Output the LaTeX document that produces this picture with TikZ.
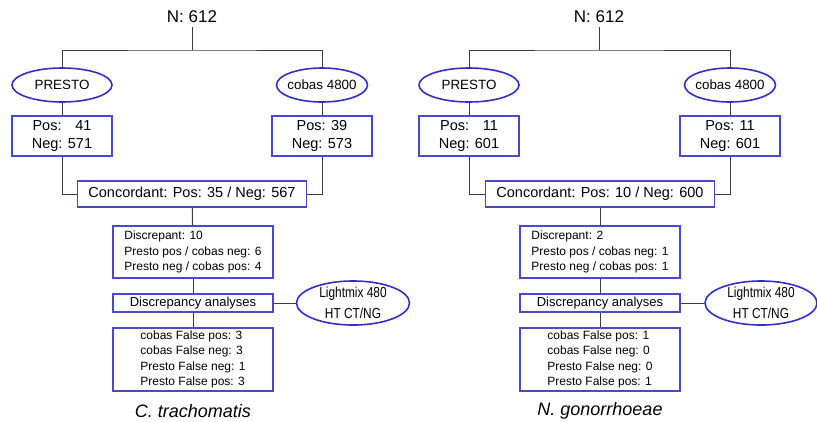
\documentclass[tikz,border=0pt]{standalone}
\usepackage{fontspec}
\setmainfont{Liberation Sans}
\usetikzlibrary{shapes.geometric}
\definecolor{boxblue}{RGB}{72,72,208}
\definecolor{ellblue}{RGB}{48,48,200}
\definecolor{linegray}{RGB}{60,60,60}
\newcommand{\narrow}[1]{\scalebox{0.82}[1]{#1}}

\begin{document}
\begin{tikzpicture}[x=1pt,y=-1pt,
  main box/.style={rectangle,draw=boxblue,line width=1.3pt,inner sep=2pt,
    font=\fontsize{14.5}{18}\selectfont,align=center},
  small box/.style={rectangle,draw=boxblue,line width=1.3pt,inner sep=2pt,
    font=\fontsize{12}{15.4}\selectfont,align=left,minimum width=160pt},
  tool node/.style={ellipse,draw=ellblue,line width=1.6pt,inner ysep=0pt,
    inner xsep=-3pt,align=center,font=\fontsize{13.4}{16}\selectfont},
  top label/.style={font=\fontsize{17}{20}\selectfont},
  species/.style={font=\fontsize{18}{20}\selectfont\itshape},
  link/.style={draw=linegray,line width=1pt}]
  \useasboundingbox (0,0) rectangle (817,421);

  % C. trachomatis
  \node[top label] (n1) at (192,17) {N: 612};
  \coordinate (top1) at (192,50);
  \node[tool node,minimum width=100pt,minimum height=34pt] (presto1) at (62,85) {PRESTO};
  \node[tool node,minimum width=91pt,minimum height=34pt] (cobas1) at (322,85) {cobas 4800};
  \node[main box,minimum width=100pt,minimum height=40pt] (pr1) at (62,136) {Pos:\hspace{0.95em}41\\Neg: 571};
  \node[main box,minimum width=100pt,minimum height=40pt] (cr1) at (322,136) {Pos: 39\\Neg: 573};
  \node[main box,minimum width=229pt,minimum height=26pt] (conc1) at (192,194) {Concordant: Pos: 35 / Neg: 567};
  \node[small box,minimum height=52pt] (disc1) at (193,252)
    {Discrepant: 10\\Presto pos / cobas neg: 6\\Presto neg / cobas pos: 4};
  \node[small box,minimum height=18pt,font=\fontsize{13}{15}\selectfont] (ana1) at (193,303) {Discrepancy analyses};
  \node[tool node,minimum width=113pt,minimum height=44pt,font=\fontsize{14.5}{20.5}\selectfont] (light1) at (353,303)
    {\narrow{Lightmix 480}\\\narrow{HT CT/NG}};
  \node[small box,minimum height=63pt] (false1) at (193,359.5)
    {cobas False pos: 3\\cobas False neg: 3\\Presto False neg: 1\\Presto False pos: 3};
  \node[species] (title1) at (193,411) {C. trachomatis};

  % N. gonorrhoeae
  \node[top label] (n2) at (599,17) {N: 612};
  \coordinate (top2) at (599,50);
  \node[tool node,minimum width=100pt,minimum height=34pt] (presto2) at (469,85) {PRESTO};
  \node[tool node,minimum width=91pt,minimum height=34pt] (cobas2) at (730,85) {cobas 4800};
  \node[main box,minimum width=100pt,minimum height=40pt] (pr2) at (469,136) {Pos:\hspace{0.95em}11\\Neg: 601};
  \node[main box,minimum width=100pt,minimum height=40pt] (cr2) at (730,136) {Pos: 11\\Neg: 601};
  \node[main box,minimum width=229pt,minimum height=26pt] (conc2) at (600,194) {Concordant: Pos: 10 / Neg: 600};
  \node[small box,minimum height=52pt] (disc2) at (600,252)
    {Discrepant: 2\\Presto pos / cobas neg: 1\\Presto neg / cobas pos: 1};
  \node[small box,minimum height=18pt,font=\fontsize{13}{15}\selectfont] (ana2) at (600,303) {Discrepancy analyses};
  \node[tool node,minimum width=112pt,minimum height=44pt,font=\fontsize{14.5}{20.5}\selectfont] (light2) at (761,303)
    {\narrow{Lightmix 480}\\\narrow{HT CT/NG}};
  \node[small box,minimum height=63pt] (false2) at (600,359.5)
    {cobas False pos: 1\\cobas False neg: 0\\Presto False neg: 0\\Presto False pos: 1};
  \node[species] (title2) at (600,411) {N. gonorrhoeae};

  \path[link]
    (n1) edge (top1)
    (presto1) edge (pr1)
    (cobas1) edge (cr1)
    (conc1) edge (disc1)
    (disc1) edge (ana1)
    (ana1) edge (false1)
        edge (light1)
    (n2) edge (top2)
    (presto2) edge (pr2)
    (cobas2) edge (cr2)
    (conc2) edge (disc2)
    (disc2) edge (ana2)
    (ana2) edge (false2)
        edge (light2);
  \draw[link] (presto1) |- (top1) -| (cobas1);
  \draw[link] (pr1) |- (conc1);
  \draw[link] (cr1) |- (conc1);
  \draw[link] (presto2) |- (top2) -| (cobas2);
  \draw[link] (pr2) |- (conc2);
  \draw[link] (cr2) |- (conc2);
\end{tikzpicture}
\end{document}
